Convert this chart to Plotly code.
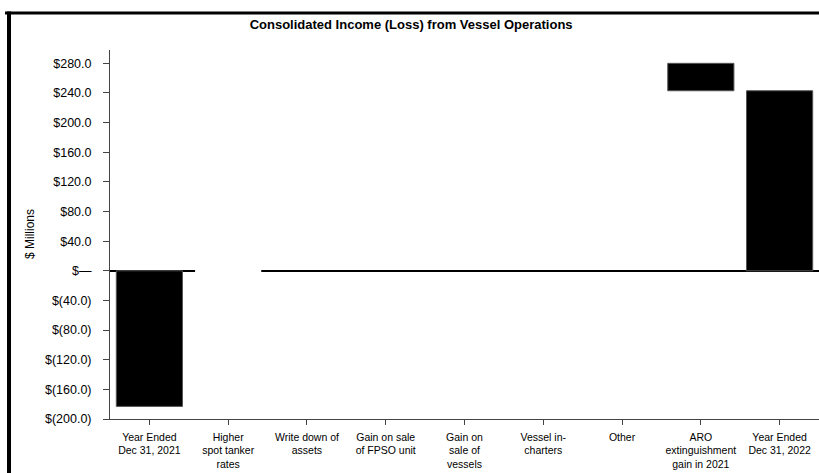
import plotly.graph_objects as go

categories = ["Year Ended<br>Dec 31, 2021", "Higher<br>spot tanker<br>rates", "Write down of<br>assets",
              "Gain on sale<br>of FPSO unit", "Gain on<br>sale of<br>vessels", "Vessel in-<br>charters",
              "Other", "ARO<br>extinguishment<br>gain in 2021", "Year Ended<br>Dec 31, 2022"]
values = [-183, 328, 55, 43, 14, 5, 18, -37, 0]
measures = ["absolute", "relative", "relative", "relative", "relative", "relative", "relative", "relative", "total"]

tick_vals = [-200, -160, -120, -80, -40, 0, 40, 80, 120, 160, 200, 240, 280]
tick_text = ["$(200.0)", "$(160.0)", "$(120.0)", "$(80.0)", "$(40.0)", "$\u2014",
             "$40.0", "$80.0", "$120.0", "$160.0", "$200.0", "$240.0", "$280.0"]

W, H = 819, 473
L, R, T, B = 110, 0, 50, 54
pw, ph = W - L - R, H - T - B


def px_x(p):
    return (p - L) / pw


def px_y(p):
    return (H - B - p) / ph


fig = go.Figure(go.Waterfall(
    x=categories, y=values, measure=measures,
    increasing=dict(marker=dict(color="white", line=dict(color="white", width=0))),
    decreasing=dict(marker=dict(color="black", line=dict(color="#555", width=1))),
    totals=dict(marker=dict(color="black", line=dict(color="#555", width=1))),
    connector=dict(visible=False),
    width=0.84,
))

fig.update_layout(
    width=W, height=H,
    margin=dict(l=L, r=R, t=T, b=B),
    paper_bgcolor="white", plot_bgcolor="white",
    font=dict(family="Liberation Sans, Arial, sans-serif", size=11, color="black"),
    title=dict(text="<b>Consolidated Income (Loss) from Vessel Operations</b>",
               x=0.502, xref="container", xanchor="center", y=1 - 24 / H, yanchor="middle",
               font=dict(size=13)),
    showlegend=False,
    shapes=[
        dict(type="line", xref="paper", yref="paper", x0=px_x(5), x1=px_x(819),
             y0=px_y(13), y1=px_y(13), line=dict(color="black", width=3), layer="above"),
        dict(type="rect", xref="paper", yref="paper", x0=px_x(7), x1=px_x(11), y0=px_y(473), y1=px_y(11.5),
             fillcolor="black", line=dict(width=0), layer="above"),
    ],
    annotations=[
        dict(text="$ Millions", textangle=-90, xref="paper", yref="paper", x=px_x(30), y=px_y(234),
             xanchor="center", yanchor="middle", showarrow=False, font=dict(size=12)),
    ],
)
fig.update_xaxes(showline=True, linecolor="#444", linewidth=1, ticks="outside", ticklen=5,
                 tickcolor="#444", showgrid=False, tickfont=dict(size=10.5), ticklabelstandoff=3)
fig.update_yaxes(range=[-200, 298], tickvals=tick_vals, ticktext=tick_text, showline=True,
                 linecolor="#444", linewidth=1, ticks="outside", ticklen=6, tickcolor="#444",
                 showgrid=False, zeroline=True, zerolinecolor="black", zerolinewidth=2,
                 tickfont=dict(size=12.5), ticklabelstandoff=9)

fig.write_html("out.html", config={"displayModeBar": False},
               post_script="document.body.style.margin='0';document.body.style.overflow='hidden';")
